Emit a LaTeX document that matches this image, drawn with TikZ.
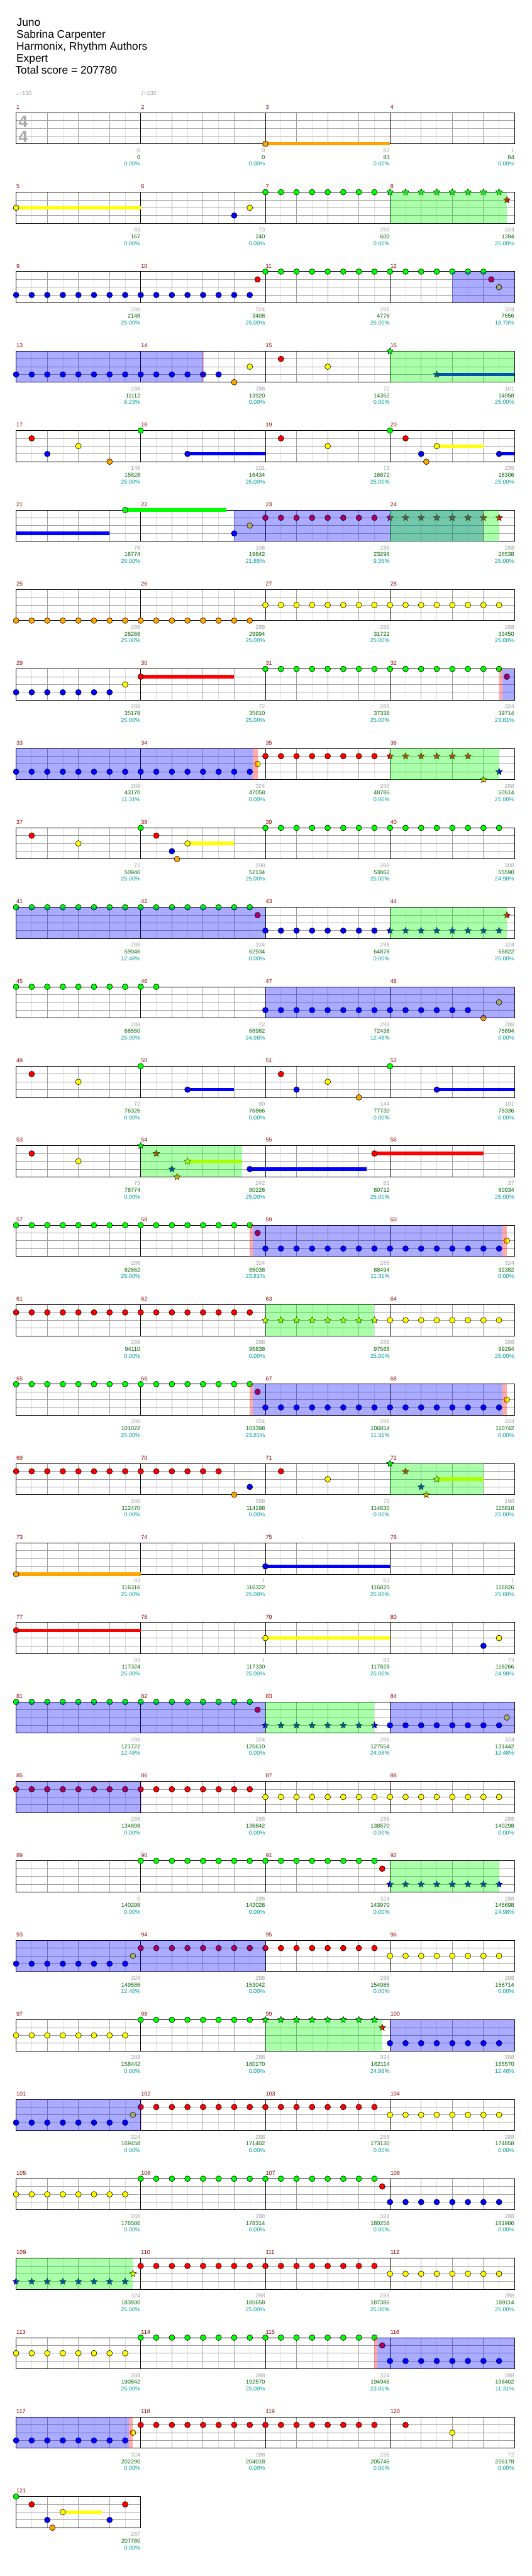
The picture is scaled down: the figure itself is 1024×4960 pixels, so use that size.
\documentclass[tikz,border=0pt]{standalone}
\usepackage{fontspec}
\setmainfont{Liberation Sans}
\newfontfamily\notefont{DejaVu Sans}
\usepackage{xcolor}
\usepackage{tikz}
\usetikzlibrary{positioning, shapes.geometric}

\definecolor{notegreen}{RGB}{0,255,0}
\definecolor{notered}{RGB}{255,0,0}
\definecolor{noteyellow}{RGB}{255,255,0}
\definecolor{noteblue}{RGB}{0,0,255}
\definecolor{noteorange}{RGB}{255,165,0}
\definecolor{barred}{RGB}{140,0,0}
\definecolor{cntgray}{RGB}{160,160,160}
\definecolor{scrgreen}{RGB}{0,100,0}
\definecolor{pctteal}{RGB}{0,155,155}
\definecolor{midgrid}{RGB}{160,160,160}
\definecolor{lightgrid}{RGB}{222,222,222}
\definecolor{tsiggray}{RGB}{170,170,170}

\pgfdeclarelayer{gridlayer}
\pgfdeclarelayer{barlayer}
\pgfdeclarelayer{zonelayer}
\pgfsetlayers{gridlayer,barlayer,main,zonelayer}

\newcounter{nid}
% notes: row, lane, style=colour, positions (in eighths from row start)
\newcommand{\chartnotes}[4]{%
  \foreach \p in {#4}{%
    \stepcounter{nid}%
    \node[#3] (nt\arabic{nid}) at ({31+30*\p},{217+153*#1+15*#2}) {};
  }%
}
% sustain: row, lane, colour, from, to
\newcommand{\chartsustain}[5]{%
  \stepcounter{nid}%
  \coordinate (hs\arabic{nid}) at ({31+30*#4},{217+153*#1+15*#2});
  \coordinate (he\arabic{nid}) at ({31+30*#5},{217+153*#1+15*#2});
  \begin{pgfonlayer}{barlayer}
    \draw[sustain=#3] (hs\arabic{nid}) -- (he\arabic{nid});
  \end{pgfonlayer}%
}
% zone: row, style, from, to
\newcommand{\chartzone}[4]{%
  \begin{pgfonlayer}{zonelayer}
    \fill[#2] ({31+30*#3},{217+153*#1}) rectangle ({31+30*#4},{277+153*#1});
  \end{pgfonlayer}%
}

\begin{document}
\begin{tikzpicture}[
    x=1pt, y=-1pt,
    % Define common styles
    note/.style={circle, draw=black, line width=0.7pt, fill=#1, minimum size=11pt, inner sep=0pt},
    starnote/.style={star, star points=5, star point ratio=2.2, draw=black, line width=0.6pt, fill=#1, minimum size=13.5pt, inner sep=0pt},
    sustain/.style={draw=#1, line width=6.5pt},
    odzone/.style={fill=notegreen, opacity=0.33},
    spzone/.style={fill=noteblue, opacity=0.33},
    gapzone/.style={fill=notered, opacity=0.33},
    halfline/.style={draw=lightgrid, line width=1pt},
    beatline/.style={draw=midgrid, line width=1pt},
    barline/.style={draw=black, line width=1pt},
    barnum/.style={anchor=base west, inner sep=0pt, text=barred, font=\fontsize{11}{11}\selectfont},
    cntlbl/.style={anchor=base east, inner sep=0pt, text=cntgray, font=\fontsize{11}{11}\selectfont},
    scrlbl/.style={anchor=base east, inner sep=0pt, text=scrgreen, font=\fontsize{11}{11}\selectfont},
    pctlbl/.style={anchor=base east, inner sep=0pt, text=pctteal, font=\fontsize{11}{11}\selectfont},
    headline/.style={anchor=base west, inner sep=0pt, font=\fontsize{21}{21}\selectfont},
    tempo/.style={anchor=base west, inner sep=0pt, text=cntgray, font=\fontsize{11}{11}\selectfont},
    tsig/.style={anchor=base, inner sep=0pt, text=tsiggray, font=\fontsize{32}{32}\selectfont\bfseries}
  ]

    \useasboundingbox (0,0) rectangle (1024,4960);

    % Song header
    \node[headline] (title) at (32,50) {Juno};
    \node[headline] (artist) at (31.5,73) {Sabrina Carpenter};
    \node[headline] (charter) at (31.5,96) {Harmonix, Rhythm Authors};
    \node[headline] (diff) at (31.5,119) {Expert};
    \node[headline] (total) at (29.5,142) {Total score = 207780};

    % Tempo marks and time signature
    \node[tempo] (tempoa) at (31,184) {{\notefont ♩}=130};
    \node[tempo] (tempob) at (271,184) {{\notefont ♩}=130};
    \node[tsig] (tsigtop) at (44.5,245) {4};
    \node[tsig] (tsigbot) at (44.5,274) {4};

    % Staff grid, one row of four measures at a time
    \begin{pgfonlayer}{gridlayer}
    \foreach \r in {0,...,30}{
      \pgfmathtruncatemacro\nm{\r<30 ? 4 : 1}
      \pgfmathtruncatemacro\nk{8*\nm-1}
      \pgfmathtruncatemacro\ty{217+153*\r}
      \pgfmathtruncatemacro\rx{31+240*\nm}
      \foreach \k in {1,3,...,\nk} \draw[halfline] ({31+30*\k},\ty) -- ++(0,60);
      \foreach \k in {2,4,...,\nk} \draw[beatline] ({31+30*\k},\ty) -- ++(0,60);
      \foreach \h in {15,30,45} \draw[beatline] (31,{\ty+\h}) -- (\rx,{\ty+\h});
      \foreach \j in {1,...,\nm} \draw[barline] ({31+240*\j},\ty) -- ++(0,60);
      \draw[barline] (31,\ty) rectangle (\rx,{\ty+60});
    }
    \end{pgfonlayer}

    % Measure numbers and running totals
    \foreach \mm/\cnt/\scr/\pct in {
      1/0/0/0.00, 2/0/0/0.00, 3/83/83/0.00, 4/1/84/0.00,
      5/83/167/0.00, 6/73/240/0.00, 7/288/600/0.00, 8/324/1284/25.00,
      9/288/2148/25.00, 10/324/3408/25.00, 11/288/4776/25.00, 12/324/7656/18.73,
      13/288/11112/6.23, 14/288/13920/0.00, 15/72/14352/0.00, 16/101/14958/25.00,
      17/145/15828/25.00, 18/101/16434/25.00, 19/73/16872/25.00, 20/239/18306/25.00,
      21/78/18774/25.00, 22/106/19842/21.85, 23/288/23298/9.35, 24/288/26538/25.00,
      25/288/28266/25.00, 26/288/29994/25.00, 27/288/31722/25.00, 28/288/33450/25.00,
      29/288/35178/25.00, 30/72/35610/25.00, 31/288/37338/25.00, 32/324/39714/23.81,
      33/288/43170/11.31, 34/324/47058/0.00, 35/288/48786/0.00, 36/288/50514/25.00,
      37/72/50946/25.00, 38/198/52134/25.00, 39/288/53862/25.00, 40/288/55590/24.98,
      41/288/59046/12.48, 42/324/62934/0.00, 43/288/64878/0.00, 44/324/66822/25.00,
      45/288/68550/25.00, 46/72/68982/24.98, 47/288/72438/12.48, 48/288/75894/0.00,
      49/72/76326/0.00, 50/90/76866/0.00, 51/144/77730/0.00, 52/101/78336/0.00,
      53/73/78774/0.00, 54/242/80226/25.00, 55/81/80712/25.00, 56/37/80934/25.00,
      57/288/82662/25.00, 58/324/85038/23.81, 59/288/88494/11.31, 60/324/92382/0.00,
      61/288/94110/0.00, 62/288/95838/0.00, 63/288/97566/25.00, 64/288/99294/25.00,
      65/288/101022/25.00, 66/324/103398/23.81, 67/288/106854/11.31, 68/324/110742/0.00,
      69/288/112470/0.00, 70/288/114198/0.00, 71/72/114630/0.00, 72/198/115818/25.00,
      73/83/116316/25.00, 74/1/116322/25.00, 75/83/116820/25.00, 76/1/116826/25.00,
      77/83/117324/25.00, 78/1/117330/25.00, 79/83/117828/25.00, 80/73/118266/24.98,
      81/288/121722/12.48, 82/324/125610/0.00, 83/288/127554/24.98, 84/324/131442/12.48,
      85/288/134898/0.00, 86/288/136842/0.00, 87/288/138570/0.00, 88/288/140298/0.00,
      89/0/140298/0.00, 90/288/142026/0.00, 91/324/143970/0.00, 92/288/145698/24.98,
      93/324/149586/12.48, 94/288/153042/0.00, 95/288/154986/0.00, 96/288/156714/0.00,
      97/288/158442/0.00, 98/288/160170/0.00, 99/324/162114/24.98, 100/288/165570/12.48,
      101/324/169458/0.00, 102/288/171402/0.00, 103/288/173130/0.00, 104/288/174858/0.00,
      105/288/176586/0.00, 106/288/178314/0.00, 107/324/180258/0.00, 108/288/181986/0.00,
      109/324/183930/25.00, 110/288/185658/25.00, 111/288/187386/25.00, 112/288/189114/25.00,
      113/288/190842/25.00, 114/288/192570/25.00, 115/324/194946/23.81, 116/288/198402/11.31,
      117/324/202290/0.00, 118/288/204018/0.00, 119/288/205746/0.00, 120/72/206178/0.00,
      121/267/207780/0.00}{
      \pgfmathtruncatemacro\rw{(\mm-1)/4}
      \pgfmathtruncatemacro\cl{mod(\mm-1,4)}
      \node[barnum] (num\mm) at ({31.5+240*\cl},{210+153*\rw}) {\mm};
      \node[cntlbl] (cnt\mm) at ({270.5+240*\cl},{293.5+153*\rw}) {\cnt};
      \node[scrlbl] (scr\mm) at ({270.5+240*\cl},{306.5+153*\rw}) {\scr};
      \node[pctlbl] (pct\mm) at ({270.5+240*\cl},{319.5+153*\rw}) {\pct\%};
    }

    % Measures 1-4
    \chartnotes{0}{4}{note=noteorange}{16}
    \chartsustain{0}{4}{noteorange}{16}{24}

    % Measures 5-8
    \chartnotes{1}{2}{note=noteyellow}{0,15}
    \chartnotes{1}{3}{note=noteblue}{14}
    \chartnotes{1}{0}{note=notegreen}{16,...,23}
    \chartnotes{1}{0}{starnote=notegreen}{24,...,31}
    \chartnotes{1}{1}{starnote=notered}{31.5}
    \chartsustain{1}{2}{noteyellow}{0}{8}
    \chartzone{1}{odzone}{24}{31.5}

    % Measures 9-12
    \chartnotes{2}{3}{note=noteblue}{0,...,15}
    \chartnotes{2}{1}{note=notered}{15.5,30.5}
    \chartnotes{2}{0}{note=notegreen}{16,...,30}
    \chartnotes{2}{2}{note=noteyellow}{31}
    \chartzone{2}{spzone}{28}{32}

    % Measures 13-16
    \chartnotes{3}{3}{note=noteblue}{0,...,13}
    \chartnotes{3}{4}{note=noteorange}{14}
    \chartnotes{3}{2}{note=noteyellow}{15,20}
    \chartnotes{3}{1}{note=notered}{17}
    \chartnotes{3}{0}{starnote=notegreen}{24}
    \chartnotes{3}{3}{starnote=noteblue}{27}
    \chartsustain{3}{3}{noteblue}{27}{32}
    \chartzone{3}{spzone}{0}{12}
    \chartzone{3}{gapzone}{12}{12.05}
    \chartzone{3}{odzone}{24}{32}

    % Measures 17-20
    \chartnotes{4}{1}{note=notered}{1,17,25}
    \chartnotes{4}{3}{note=noteblue}{2,11,26,31}
    \chartnotes{4}{2}{note=noteyellow}{4,20,27}
    \chartnotes{4}{4}{note=noteorange}{6,26.33}
    \chartnotes{4}{0}{note=notegreen}{8,24}
    \chartsustain{4}{3}{noteblue}{11}{16}
    \chartsustain{4}{2}{noteyellow}{27}{30}
    \chartsustain{4}{3}{noteblue}{31}{32}

    % Measures 21-24
    \chartsustain{5}{3}{noteblue}{0}{6}
    \chartnotes{5}{0}{note=notegreen}{7}
    \chartsustain{5}{0}{notegreen}{7}{13.5}
    \chartnotes{5}{3}{note=noteblue}{14}
    \chartnotes{5}{2}{note=noteyellow}{15}
    \chartnotes{5}{1}{note=notered}{16,...,23}
    \chartnotes{5}{1}{starnote=notered}{24,...,31}
    \chartzone{5}{spzone}{14}{30}
    \chartzone{5}{gapzone}{29.95}{30.05}
    \chartzone{5}{odzone}{24}{31}

    % Measures 25-28
    \chartnotes{6}{4}{note=noteorange}{0,...,15}
    \chartnotes{6}{2}{note=noteyellow}{16,...,31}

    % Measures 29-32
    \chartnotes{7}{3}{note=noteblue}{0,...,6}
    \chartnotes{7}{2}{note=noteyellow}{7}
    \chartnotes{7}{1}{note=notered}{8}
    \chartsustain{7}{1}{notered}{8}{14}
    \chartnotes{7}{0}{note=notegreen}{16,...,31}
    \chartnotes{7}{1}{note=notered}{31.5}
    \chartzone{7}{gapzone}{31}{31.2}
    \chartzone{7}{spzone}{31.2}{32}

    % Measures 33-36
    \chartnotes{8}{3}{note=noteblue}{0,...,15}
    \chartnotes{8}{2}{note=noteyellow}{15.5}
    \chartnotes{8}{1}{note=notered}{16,...,23}
    \chartnotes{8}{1}{starnote=notered}{24,...,29}
    \chartnotes{8}{4}{starnote=noteorange}{30}
    \chartnotes{8}{3}{starnote=noteblue}{31}
    \chartzone{8}{spzone}{0}{15.2}
    \chartzone{8}{gapzone}{15.2}{15.5}
    \chartzone{8}{odzone}{24}{31}

    % Measures 37-40
    \chartnotes{9}{1}{note=notered}{1,9}
    \chartnotes{9}{2}{note=noteyellow}{4,11}
    \chartnotes{9}{0}{note=notegreen}{8}
    \chartnotes{9}{3}{note=noteblue}{10}
    \chartnotes{9}{4}{note=noteorange}{10.33}
    \chartsustain{9}{2}{noteyellow}{11}{14}
    \chartnotes{9}{0}{note=notegreen}{16,...,31}

    % Measures 41-44
    \chartnotes{10}{0}{note=notegreen}{0,...,15}
    \chartnotes{10}{1}{note=notered}{15.5}
    \chartnotes{10}{3}{note=noteblue}{16,...,23}
    \chartnotes{10}{3}{starnote=noteblue}{24,...,31}
    \chartnotes{10}{1}{starnote=notered}{31.5}
    \chartzone{10}{spzone}{0}{16}
    \chartzone{10}{odzone}{24}{31.5}

    % Measures 45-48
    \chartnotes{11}{0}{note=notegreen}{0,...,9}
    \chartnotes{11}{3}{note=noteblue}{16,...,29}
    \chartnotes{11}{4}{note=noteorange}{30}
    \chartnotes{11}{2}{note=noteyellow}{31}
    \chartzone{11}{spzone}{16}{32}

    % Measures 49-52
    \chartnotes{12}{1}{note=notered}{1,17}
    \chartnotes{12}{2}{note=noteyellow}{4,20}
    \chartnotes{12}{0}{note=notegreen}{8,24}
    \chartnotes{12}{3}{note=noteblue}{11,18,27}
    \chartnotes{12}{4}{note=noteorange}{22}
    \chartsustain{12}{3}{noteblue}{11}{14}
    \chartsustain{12}{3}{noteblue}{27}{32}

    % Measures 53-56
    \chartnotes{13}{1}{note=notered}{1,23}
    \chartnotes{13}{2}{note=noteyellow}{4}
    \chartnotes{13}{0}{starnote=notegreen}{8}
    \chartnotes{13}{1}{starnote=notered}{9}
    \chartnotes{13}{3}{starnote=noteblue}{10}
    \chartnotes{13}{4}{starnote=noteorange}{10.33}
    \chartnotes{13}{2}{starnote=noteyellow}{11}
    \chartnotes{13}{3}{note=noteblue}{15}
    \chartsustain{13}{2}{noteyellow}{11}{14.5}
    \chartsustain{13}{3}{noteblue}{15}{22.5}
    \chartsustain{13}{1}{notered}{23}{30}
    \chartzone{13}{odzone}{8}{14.5}

    % Measures 57-60
    \chartnotes{14}{0}{note=notegreen}{0,...,15}
    \chartnotes{14}{1}{note=notered}{15.5}
    \chartnotes{14}{3}{note=noteblue}{16,...,31}
    \chartnotes{14}{2}{note=noteyellow}{31.5}
    \chartzone{14}{gapzone}{15}{15.2}
    \chartzone{14}{spzone}{15.2}{31.2}
    \chartzone{14}{gapzone}{31.2}{31.5}

    % Measures 61-64
    \chartnotes{15}{1}{note=notered}{0,...,15}
    \chartnotes{15}{2}{starnote=noteyellow}{16,...,23}
    \chartnotes{15}{2}{note=noteyellow}{24,...,31}
    \chartzone{15}{odzone}{16}{23}

    % Measures 65-68
    \chartnotes{16}{0}{note=notegreen}{0,...,15}
    \chartnotes{16}{1}{note=notered}{15.5}
    \chartnotes{16}{3}{note=noteblue}{16,...,31}
    \chartnotes{16}{2}{note=noteyellow}{31.5}
    \chartzone{16}{gapzone}{15}{15.2}
    \chartzone{16}{spzone}{15.2}{31.2}
    \chartzone{16}{gapzone}{31.2}{31.5}

    % Measures 69-72
    \chartnotes{17}{1}{note=notered}{0,...,13}
    \chartnotes{17}{4}{note=noteorange}{14}
    \chartnotes{17}{3}{note=noteblue}{15}
    \chartnotes{17}{1}{note=notered}{17}
    \chartnotes{17}{2}{note=noteyellow}{20}
    \chartnotes{17}{0}{starnote=notegreen}{24}
    \chartnotes{17}{1}{starnote=notered}{25}
    \chartnotes{17}{3}{starnote=noteblue}{26}
    \chartnotes{17}{4}{starnote=noteorange}{26.33}
    \chartnotes{17}{2}{starnote=noteyellow}{27}
    \chartsustain{17}{2}{noteyellow}{27}{30}
    \chartzone{17}{odzone}{24}{30}

    % Measures 73-76
    \chartnotes{18}{4}{note=noteorange}{0}
    \chartsustain{18}{4}{noteorange}{0}{8}
    \chartnotes{18}{3}{note=noteblue}{16}
    \chartsustain{18}{3}{noteblue}{16}{24}

    % Measures 77-80
    \chartnotes{19}{1}{note=notered}{0}
    \chartsustain{19}{1}{notered}{0}{8}
    \chartnotes{19}{2}{note=noteyellow}{16,31}
    \chartsustain{19}{2}{noteyellow}{16}{24}
    \chartnotes{19}{3}{note=noteblue}{30}

    % Measures 81-84
    \chartnotes{20}{0}{note=notegreen}{0,...,15}
    \chartnotes{20}{1}{note=notered}{15.5}
    \chartnotes{20}{3}{starnote=noteblue}{16,...,23}
    \chartnotes{20}{3}{note=noteblue}{24,...,31}
    \chartnotes{20}{2}{note=noteyellow}{31.5}
    \chartzone{20}{spzone}{0}{16}
    \chartzone{20}{odzone}{16}{23}
    \chartzone{20}{spzone}{24}{32}

    % Measures 85-88
    \chartnotes{21}{1}{note=notered}{0,...,15}
    \chartnotes{21}{2}{note=noteyellow}{16,...,31}
    \chartzone{21}{spzone}{0}{8}
    \chartzone{21}{gapzone}{8}{8.05}

    % Measures 89-92
    \chartnotes{22}{0}{note=notegreen}{8,...,23}
    \chartnotes{22}{1}{note=notered}{23.5}
    \chartnotes{22}{3}{starnote=noteblue}{24,...,31}
    \chartzone{22}{odzone}{24}{31}

    % Measures 93-96
    \chartnotes{23}{3}{note=noteblue}{0,...,7}
    \chartnotes{23}{2}{note=noteyellow}{7.5}
    \chartnotes{23}{1}{note=notered}{8,...,23}
    \chartnotes{23}{2}{note=noteyellow}{24,...,31}
    \chartzone{23}{spzone}{0}{16}

    % Measures 97-100
    \chartnotes{24}{2}{note=noteyellow}{0,...,7}
    \chartnotes{24}{0}{note=notegreen}{8,...,15}
    \chartnotes{24}{0}{starnote=notegreen}{16,...,23}
    \chartnotes{24}{1}{starnote=notered}{23.5}
    \chartnotes{24}{3}{note=noteblue}{24,...,31}
    \chartzone{24}{odzone}{16}{23.5}
    \chartzone{24}{spzone}{24}{32}

    % Measures 101-104
    \chartnotes{25}{3}{note=noteblue}{0,...,7}
    \chartnotes{25}{2}{note=noteyellow}{7.5}
    \chartnotes{25}{1}{note=notered}{8,...,23}
    \chartnotes{25}{2}{note=noteyellow}{24,...,31}
    \chartzone{25}{spzone}{0}{8}
    \chartzone{25}{gapzone}{8}{8.05}

    % Measures 105-108
    \chartnotes{26}{2}{note=noteyellow}{0,...,7}
    \chartnotes{26}{0}{note=notegreen}{8,...,23}
    \chartnotes{26}{1}{note=notered}{23.5}
    \chartnotes{26}{3}{note=noteblue}{24,...,31}

    % Measures 109-112
    \chartnotes{27}{3}{starnote=noteblue}{0,...,7}
    \chartnotes{27}{2}{starnote=noteyellow}{7.5}
    \chartnotes{27}{1}{note=notered}{8,...,23}
    \chartnotes{27}{2}{note=noteyellow}{24,...,31}
    \chartzone{27}{odzone}{0}{7.5}

    % Measures 113-116
    \chartnotes{28}{2}{note=noteyellow}{0,...,7}
    \chartnotes{28}{0}{note=notegreen}{8,...,23}
    \chartnotes{28}{1}{note=notered}{23.5}
    \chartnotes{28}{3}{note=noteblue}{24,...,31}
    \chartzone{28}{gapzone}{23}{23.2}
    \chartzone{28}{spzone}{23.2}{32}

    % Measures 117-120
    \chartnotes{29}{3}{note=noteblue}{0,...,7}
    \chartnotes{29}{2}{note=noteyellow}{7.5,28}
    \chartnotes{29}{1}{note=notered}{8,...,23}
    \chartnotes{29}{1}{note=notered}{25}
    \chartzone{29}{spzone}{0}{7.24}
    \chartzone{29}{gapzone}{7.24}{7.5}

    % Measure 121
    \chartnotes{30}{0}{note=notegreen}{0}
    \chartnotes{30}{1}{note=notered}{1,7}
    \chartnotes{30}{3}{note=noteblue}{2,6}
    \chartnotes{30}{4}{note=noteorange}{2.33}
    \chartnotes{30}{2}{note=noteyellow}{3}
    \chartsustain{30}{2}{noteyellow}{3}{5.5}

\end{tikzpicture}
\end{document}
